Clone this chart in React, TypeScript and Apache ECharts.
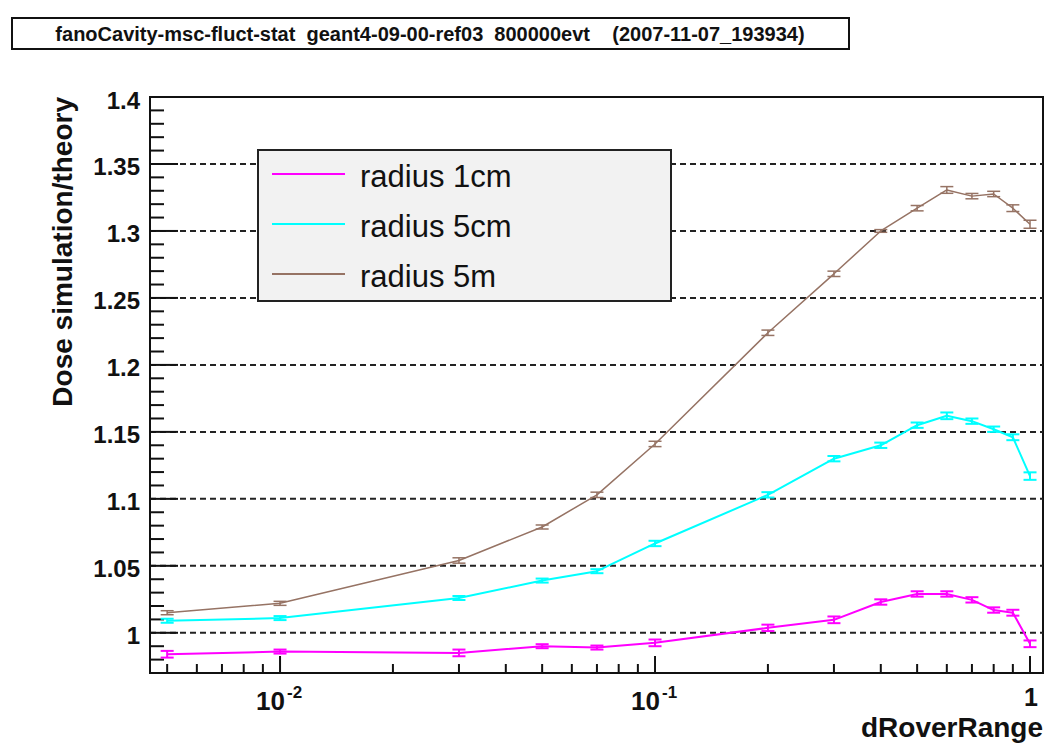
import React, { useEffect, useRef } from "react";
import * as echarts from "echarts";

// ---------- data ----------
const TITLE = "fanoCavity-msc-fluct-stat  geant4-09-00-ref03  800000evt    (2007-11-07_193934)";
const X_TITLE = "dRoverRange";
const Y_TITLE = "Dose simulation/theory";

const dRoverRange = [0.005, 0.01, 0.03, 0.05, 0.07, 0.1, 0.2, 0.3, 0.4, 0.5, 0.6, 0.7, 0.8, 0.9, 1.0];

const radius1cm = [0.984, 0.986, 0.985, 0.99, 0.989, 0.9925, 1.0037, 1.0097, 1.023, 1.029, 1.029, 1.0246, 1.017, 1.015, 0.9918];
const radius1cmErr = [0.0025, 0.0015, 0.0025, 0.0015, 0.0015, 0.0025, 0.0024, 0.0025, 0.002, 0.002, 0.002, 0.002, 0.002, 0.0022, 0.0025];

const radius5cm = [1.009, 1.011, 1.026, 1.039, 1.046, 1.0667, 1.103, 1.13, 1.14, 1.155, 1.162, 1.158, 1.152, 1.146, 1.117];
const radius5cmErr = [0.0015, 0.0015, 0.0015, 0.0015, 0.0015, 0.002, 0.002, 0.002, 0.002, 0.002, 0.0025, 0.002, 0.002, 0.0022, 0.0028];

const radius5m = [1.015, 1.022, 1.054, 1.079, 1.103, 1.141, 1.224, 1.268, 1.3, 1.317, 1.3306, 1.326, 1.3276, 1.317, 1.305];
const radius5mErr = [0.0015, 0.0015, 0.002, 0.0015, 0.002, 0.002, 0.002, 0.002, 0.001, 0.002, 0.0025, 0.002, 0.002, 0.0025, 0.003];

const seriesNames = ["radius 1cm", "radius 5cm", "radius 5m"];
const seriesColors = ["#ff00ff", "#00ffff", "#967364"];

const yMajorTicks = [1.0, 1.05, 1.1, 1.15, 1.2, 1.25, 1.3, 1.35, 1.4];
const yTickLabels = ["1", "1.05", "1.1", "1.15", "1.2", "1.25", "1.3", "1.35", "1.4"];
const yMinorTicks = [
  0.97, 0.98, 0.99, 1.01, 1.02, 1.03, 1.04, 1.06, 1.07, 1.08, 1.09, 1.11, 1.12, 1.13, 1.14,
  1.16, 1.17, 1.18, 1.19, 1.21, 1.22, 1.23, 1.24, 1.26, 1.27, 1.28, 1.29, 1.31, 1.32, 1.33,
  1.34, 1.36, 1.37, 1.38, 1.39,
];

const xMajorTicks = [0.01, 0.1, 1];
const xTickBase = ["10", "10", "1"];
const xTickExp = ["-2", "-1", ""];
const xMinorTicks = [
  0.005, 0.006, 0.007, 0.008, 0.009, 0.02, 0.03, 0.04, 0.05, 0.06, 0.07, 0.08, 0.09,
  0.2, 0.3, 0.4, 0.5, 0.6, 0.7, 0.8, 0.9,
];

const XMIN = 0.0045;
const XMAX = 1.083;
const YMIN = 0.97;
const YMAX = 1.4;

const FONT = '"Liberation Sans", Arial, Helvetica, sans-serif';

export default function App() {
  const ref = useRef<HTMLDivElement>(null);

  useEffect(() => {
    if (!ref.current) return;
    const chart = echarts.init(ref.current, undefined, { renderer: "svg" });

    const ys = [radius1cm, radius5cm, radius5m];
    const errs = [radius1cmErr, radius5cmErr, radius5mErr];
    const widths = [2, 2, 1.5];

    const lineSeries = ys.map((vals, k) => ({
      type: "line",
      name: seriesNames[k],
      data: dRoverRange.map((x, i) => [x, vals[i]]),
      symbol: "none",
      lineStyle: { color: seriesColors[k], width: widths[k] },
      z: 3,
      silent: true,
    }));

    const errSeries = ys.map((vals, k) => ({
      type: "custom",
      name: seriesNames[k] + " err",
      data: dRoverRange.map((x, i) => [x, vals[i], errs[k][i]]),
      z: 4,
      silent: true,
      renderItem: (params: any, api: any) => {
        const x = api.value(0);
        const y = api.value(1);
        const e = api.value(2);
        const top = api.coord([x, y + e]);
        const bot = api.coord([x, y - e]);
        const hw = 6.5;
        const st = { stroke: seriesColors[k], lineWidth: widths[k] };
        return {
          type: "group",
          children: [
            { type: "line", shape: { x1: top[0], y1: top[1], x2: bot[0], y2: bot[1] }, style: st },
            { type: "line", shape: { x1: top[0] - hw, y1: top[1], x2: top[0] + hw, y2: top[1] }, style: st },
            { type: "line", shape: { x1: bot[0] - hw, y1: bot[1], x2: bot[0] + hw, y2: bot[1] }, style: st },
          ],
        };
      },
    }));

    const yTickData = [
      ...yMajorTicks.map((v, i) => [XMIN, v, 1, i]),
      ...yMinorTicks.map((v) => [XMIN, v, 0, -1]),
    ];
    const xTickData = [
      ...xMajorTicks.map((v, i) => [v, YMIN, 1, i]),
      ...xMinorTicks.map((v) => [v, YMIN, 0, -1]),
    ];

    const yTickSeries = {
      type: "custom",
      name: "yticks",
      data: yTickData,
      z: 1,
      silent: true,
      renderItem: (params: any, api: any) => {
        const v = api.value(1);
        const major = api.value(2) === 1;
        const idx = api.value(3);
        const cs = params.coordSys;
        const y = api.coord([XMIN, v])[1];
        const children: any[] = [];
        if (major && v > YMIN + 1e-9 && v < YMAX - 1e-9) {
          children.push({
            type: "line",
            shape: { x1: cs.x, y1: y, x2: cs.x + cs.width, y2: y },
            style: { stroke: "#222", lineWidth: 2, lineDash: [6, 4] },
          });
        }
        children.push({
          type: "line",
          shape: { x1: cs.x, y1: y, x2: cs.x + (major ? 28 : 14), y2: y },
          style: { stroke: "#111", lineWidth: 2 },
        });
        if (major) {
          children.push({
            type: "text",
            x: cs.x - 10,
            y: y + 3,
            style: {
              text: yTickLabels[idx],
              fill: "#111",
              font: "bold 24px " + FONT,
              align: "right",
              verticalAlign: "middle",
            },
          });
        }
        return { type: "group", children };
      },
    };

    const xTickSeries = {
      type: "custom",
      name: "xticks",
      data: xTickData,
      z: 1,
      silent: true,
      renderItem: (params: any, api: any) => {
        const v = api.value(0);
        const major = api.value(2) === 1;
        const idx = api.value(3);
        const cs = params.coordSys;
        const x = api.coord([v, YMIN])[0];
        const yb = cs.y + cs.height;
        const children: any[] = [
          {
            type: "line",
            shape: { x1: x, y1: yb, x2: x, y2: yb - (major ? 17 : 9) },
            style: { stroke: "#111", lineWidth: 2 },
          },
        ];
        if (major) {
          const exp = xTickExp[idx];
          if (exp) {
            children.push({
              type: "text",
              x: x + 5,
              y: 701,
              style: { text: xTickBase[idx], fill: "#111", font: "bold 26px " + FONT, align: "right", verticalAlign: "middle" },
            });
            children.push({
              type: "text",
              x: x + 7,
              y: 692,
              style: { text: exp, fill: "#111", font: "bold 17px " + FONT, align: "left", verticalAlign: "middle" },
            });
          } else {
            children.push({
              type: "text",
              x: x + 1,
              y: 697,
              style: { text: xTickBase[idx], fill: "#111", font: "bold 25px " + FONT, align: "center", verticalAlign: "middle" },
            });
          }
        }
        return { type: "group", children };
      },
    };

    // legend box
    const LX = 258, LY = 150, LW = 413, LH = 151;
    const rowY = [174, 224, 274];
    const Z = 100;
    const legendChildren: any[] = [
      {
        type: "rect",
        z: Z,
        shape: { x: LX, y: LY, width: LW, height: LH },
        style: { fill: "#f2f2f2", stroke: "#222", lineWidth: 2 },
      },
    ];
    seriesNames.forEach((name, k) => {
      legendChildren.push({
        type: "line",
        z: Z + 1,
        shape: { x1: 272, y1: rowY[k], x2: 345, y2: rowY[k] },
        style: { stroke: seriesColors[k], lineWidth: 2 },
      });
      legendChildren.push({
        type: "text",
        z: Z + 1,
        x: 360,
        y: rowY[k] + 2,
        style: { text: name, fill: "#111", font: "31px " + FONT, align: "left", verticalAlign: "middle" },
      });
    });

    chart.setOption({
      animation: false,
      backgroundColor: "#ffffff",
      grid: {
        left: 150,
        top: 97,
        right: 2,
        bottom: 71,
        show: true,
        borderColor: "#111",
        borderWidth: 2,
        backgroundColor: "transparent",
      },
      xAxis: {
        type: "log",
        logBase: 10,
        min: XMIN,
        max: XMAX,
        axisLine: { show: false },
        axisTick: { show: false },
        axisLabel: { show: false },
        splitLine: { show: false },
      },
      yAxis: {
        type: "value",
        min: YMIN,
        max: YMAX,
        axisLine: { show: false },
        axisTick: { show: false },
        axisLabel: { show: false },
        splitLine: { show: false },
      },
      graphic: [
        {
          type: "rect",
          z: Z,
          shape: { x: 12, y: 18, width: 837, height: 31 },
          style: { fill: "#fff", stroke: "#111", lineWidth: 2 },
        },
        {
          type: "text",
          z: Z + 1,
          x: 430,
          y: 34,
          style: { text: TITLE, fill: "#111", font: "bold 20px " + FONT, align: "center", verticalAlign: "middle" },
        },
        ...legendChildren,
        {
          type: "text",
          z: Z,
          x: 1043,
          y: 727,
          style: { text: X_TITLE, fill: "#111", font: "bold 28px " + FONT, align: "right", verticalAlign: "middle" },
        },
        {
          type: "text",
          z: Z,
          x: 62,
          y: 97,
          rotation: Math.PI / 2,
          style: { text: Y_TITLE, fill: "#111", font: "bold 28px " + FONT, align: "right", verticalAlign: "middle" },
        },
      ],
      series: [yTickSeries, xTickSeries, ...lineSeries, ...errSeries],
    });

    return () => chart.dispose();
  }, []);

  return (
    <div
      ref={ref}
      style={{ position: "fixed", left: 0, top: 0, width: 1045, height: 744, background: "#fff" }}
    />
  );
}
